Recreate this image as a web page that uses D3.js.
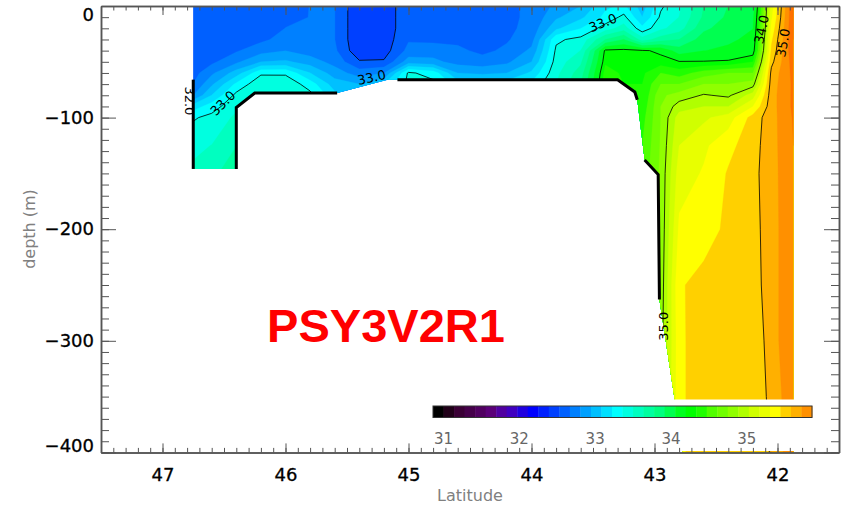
<!DOCTYPE html>
<html>
<head>
<meta charset="utf-8">
<title>PSY3V2R1 salinity section</title>
<script src="https://d3js.org/d3.v7.min.js"></script>
<style>
  body { margin: 0; background: #fff; }
  svg text { font-family: "DejaVu Sans", sans-serif; }
</style>
</head>
<body>
<svg id="chart" width="843" height="511"></svg>
<script>
var _ = null;

// station latitudes (deg N) and depth levels (m)
var stationLat = [46.75, 46.6, 46.4, 46.2, 46.0, 45.8, 45.6, 45.4, 45.2, 45.0, 44.8, 44.6, 44.4, 44.2,
                  44.0, 43.8, 43.6, 43.4, 43.25, 43.1, 42.95, 42.8, 42.6, 42.4, 42.2, 42.05, 41.87];
var depthLevels = [0, 10, 20, 30, 40, 50, 60, 70, 80, 90, 100, 125, 150, 200, 250, 300, 350, 400];

// salinity, one row per depth level (null = below the sea floor)
var salinity = [
  [32.03,32.03,32.03,32.03,32.10,32.17,32.17,31.85,31.88,32.13,32.03,32.07,32.07,32.13,32.20,32.37,32.50,32.80,32.87,32.58,32.97,33.13,33.50,33.67,33.75,34.75,35.30],
  [32.03,32.03,32.03,32.03,32.13,32.17,32.17,31.85,31.88,32.13,32.03,32.07,32.07,32.13,32.20,32.47,32.63,32.88,33.05,32.67,33.03,33.17,33.53,33.70,33.80,34.78,35.30],
  [32.03,32.03,32.03,32.05,32.17,32.17,32.17,31.85,31.88,32.13,32.07,32.08,32.07,32.13,32.22,32.63,32.83,33.08,33.25,32.88,33.13,33.25,33.63,33.75,33.83,34.83,35.30],
  [32.03,32.03,32.03,32.13,32.23,32.20,32.17,31.85,31.90,32.15,32.13,32.13,32.08,32.15,32.27,32.97,33.05,33.50,33.67,33.25,33.42,33.50,33.75,33.80,33.88,34.88,35.30],
  [32.05,32.03,32.15,32.27,32.33,32.25,32.20,31.87,31.92,32.22,32.25,32.20,32.13,32.20,32.37,33.03,33.17,34.03,34.04,34.02,33.97,33.75,33.83,33.87,33.93,34.92,35.28],
  [32.07,32.13,32.30,32.50,32.53,32.42,32.27,32.02,32.02,32.42,32.38,32.27,32.23,32.30,32.50,33.07,33.30,34.08,34.06,34.06,34.05,34.01,34.01,34.02,34.10,34.97,35.25],
  [32.10,32.30,32.58,32.97,32.97,32.67,32.42,32.25,32.33,33.03,32.93,32.50,32.47,32.50,32.70,33.12,33.42,34.15,34.08,34.08,34.20,34.15,34.25,34.30,34.30,35.03,35.23],
  [32.17,32.47,32.87,33.13,33.12,32.92,32.58,32.50,32.67,33.05,33.05,32.75,32.75,32.75,32.87,33.17,33.50,34.18,34.10,34.10,34.30,34.30,34.40,34.40,34.45,35.05,35.22],
  [32.33,32.67,33.05,33.17,33.13,33.05,32.72,32.58,32.75,33.08,33.07,32.80,32.80,32.80,32.90,33.17,33.50,34.18,34.10,34.10,34.38,34.44,34.51,34.48,34.65,35.06,35.22],
  [32.75,32.92,33.13,_,_,_,_,_,_,_,_,_,_,_,_,_,_,_,34.12,34.13,34.40,34.55,34.60,34.60,34.80,35.06,35.22],
  [32.98,33.05,33.20,_,_,_,_,_,_,_,_,_,_,_,_,_,_,_,34.14,34.16,34.40,34.65,34.68,34.75,34.94,35.06,35.21],
  [33.13,33.17,33.33,_,_,_,_,_,_,_,_,_,_,_,_,_,_,_,_,34.20,34.41,34.70,34.78,34.87,34.96,35.06,35.20],
  [33.20,33.30,33.42,_,_,_,_,_,_,_,_,_,_,_,_,_,_,_,_,34.23,34.42,34.75,34.81,34.91,34.97,35.06,35.19],
  [_,_,_,_,_,_,_,_,_,_,_,_,_,_,_,_,_,_,_,_,34.42,34.82,34.86,34.92,34.96,35.06,35.18],
  [_,_,_,_,_,_,_,_,_,_,_,_,_,_,_,_,_,_,_,_,34.43,34.89,34.93,34.92,34.95,35.06,35.18],
  [_,_,_,_,_,_,_,_,_,_,_,_,_,_,_,_,_,_,_,_,34.45,34.87,34.98,34.92,34.91,35.06,35.18],
  [_,_,_,_,_,_,_,_,_,_,_,_,_,_,_,_,_,_,_,_,34.48,34.87,34.98,34.92,34.92,35.03,35.18],
  [_,_,_,_,_,_,_,_,_,_,_,_,_,_,_,_,_,_,_,_,34.49,34.87,34.98,34.92,34.92,35.01,35.18]
];

// outline of the wet part of the section
var waterLat   = [46.75, 41.87, 41.87, 42.77, 42.96, 42.97, 43.08, 43.14, 43.16, 43.30, 45.17, 45.58, 46.25, 46.40, 46.40, 46.75];
var waterDepth = [0,     0,     400,   400,   263,   151,   138,   84,    77,    66,    66,    78,    78,    91,    146,   146];

// sea floor lines drawn thick
var floorLines = [
  [[46.75, 66], [46.75, 146]],
  [[46.40, 146], [46.40, 91], [46.25, 78], [45.58, 78]],
  [[45.09, 66], [43.30, 66], [43.16, 77], [43.14, 84]],
  [[43.08, 138], [42.97, 151], [42.96, 263]]
];

// colour table (colour bar uses the first 36)
var palette = ["#000000","#200018","#3a0035","#45004a","#500060","#5a0078","#5000a0","#4000c0","#2000e0",
  "#0000ff","#0020ff","#0040ff","#0060ff","#0080ff","#00a0ff","#00c0ff","#00e0ff","#00ffff","#00ffe0",
  "#00ffc0","#00ffa0","#00ff80","#00ff50","#00ff20","#00ff00","#20ff00","#50ff00","#70ff00","#90ff00",
  "#b0ff00","#d0ff00","#e8ff00","#ffff00","#ffd000","#ffb000","#ff9000","#ff7000","#ff5000"];
var colorbarCount = 36;
var colorbarTicks = [31, 32, 33, 34, 35];

// salinity -> colour index
var levelSal = [31, 32, 33, 34, 35, 36];
var levelIdx = [6, 12, 18, 24, 34, 44];

var lineLevels = [32, 33, 34, 34.5, 35];
var labelText  = ["32.0", "33.0", "33.0", "33.0", "34.0", "35.0", "35.0"];
var labelLat   = [46.78, 46.51, 45.30, 43.42, 42.13, 41.955, 42.93];
var labelDepth = [85, 87, 64, 15, 21, 33, 287];
var labelAngle = [90, -45, -12, -22, -78, -80, -90];

var xMajor = d3.range(42, 48);
var xMinor = d3.range(415, 476).map(function(v) { return v / 10; });
var yMajor = d3.range(0, -401, -100);
var yMinor = d3.range(0, -401, -10);

var svg = d3.select("#chart");
var x = d3.scaleLinear().domain([47.5, 41.5]).range([101, 839]);
var y = d3.scaleLinear().domain([0, -400]).range([6, 452.4]);

var nx = stationLat.length, ny = depthLevels.length;
// fill cells under the sea floor from above so the grid is complete (they get clipped)
var grid = salinity.map(function(r) { return r.slice(); });
for (var j = 1; j < ny; j++)
  for (var i = 0; i < nx; i++)
    if (grid[j][i] == null) grid[j][i] = grid[j - 1][i];
var values = [].concat.apply([], grid);

var latAt = d3.scaleLinear().domain(d3.range(nx)).range(stationLat).clamp(true);
var depAt = d3.scaleLinear().domain(d3.range(ny)).range(depthLevels).clamp(true);
function toPixel(p) {
  return [x(latAt(p[0] - 0.5)), y(-depAt(p[1] - 0.5))];
}
var path = d3.geoPath(d3.geoTransform({
  point: function(px, py) { var q = toPixel([px, py]); this.stream.point(q[0], q[1]); }
}));

// clip to water
var waterPts = waterLat.map(function(l, i) { return [x(l), y(-waterDepth[i])]; });
svg.append("clipPath").attr("id", "water")
  .append("path").attr("d", d3.line()(waterPts) + "Z");

var g = svg.append("g").attr("clip-path", "url(#water)");
g.append("path").attr("d", d3.line()(waterPts) + "Z").attr("fill", palette[11]);

var cLevel = d3.scaleLinear().domain(levelSal).range(levelIdx);
var fillIdx = d3.range(12, palette.length);
var fills = d3.contours().size([nx, ny]).thresholds(fillIdx.map(function(k) { return cLevel.invert(k); }))(values);
g.selectAll("path.fill").data(fills).enter().append("path")
  .attr("class", "fill")
  .attr("d", path)
  .attr("fill", function(d, i) { return palette[fillIdx[i]]; })
  .attr("stroke", function(d, i) { return palette[fillIdx[i]]; })
  .attr("stroke-width", 0.3);

// contour lines, leaving out the parts that run along the grid border
function ringPath(ring) {
  var s = "";
  for (var k = 0; k < ring.length; k++) {
    var p = ring[k], q = ring[k - 1];
    var edge = k === 0 || (q[0] === 0 && p[0] === 0) || (q[0] === nx && p[0] === nx) ||
               (q[1] === 0 && p[1] === 0) || (q[1] === ny && p[1] === ny);
    var xy = toPixel(p);
    s += (edge ? "M" : "L") + xy[0].toFixed(1) + "," + xy[1].toFixed(1);
  }
  return s;
}
var lines = d3.contours().size([nx, ny]).thresholds(lineLevels)(values);
lines.forEach(function(mp) {
  mp.coordinates.forEach(function(poly) {
    poly.forEach(function(ring) {
      g.append("path").attr("d", ringPath(ring))
        .attr("fill", "none").attr("stroke", "#000").attr("stroke-width", 0.8);
    });
  });
});

// sea floor
floorLines.forEach(function(seg) {
  svg.append("path")
    .attr("d", d3.line()(seg.map(function(p) { return [x(p[0]), y(-p[1])]; })))
    .attr("fill", "none").attr("stroke", "#000").attr("stroke-width", 3);
});

// contour labels
labelText.forEach(function(t, i) {
  svg.append("text")
    .attr("transform", "translate(" + x(labelLat[i]) + "," + y(-labelDepth[i]) + ") rotate(" + labelAngle[i] + ")")
    .attr("text-anchor", "middle").attr("dy", "0.35em")
    .attr("font-size", 13).attr("fill", "#000")
    .text(t);
});

// colour bar
svg.append("rect").attr("x", 418).attr("y", 399.5).attr("width", 412).attr("height", 51.5).attr("fill", "#fff");
var cbX = d3.scaleLinear().domain([0, colorbarCount]).range([433, 812]);
svg.selectAll("rect.cb").data(palette.slice(0, colorbarCount)).enter().append("rect")
  .attr("class", "cb")
  .attr("x", function(d, i) { return cbX(i); })
  .attr("y", 406)
  .attr("width", cbX(1) - cbX(0) + 0.4)
  .attr("height", 11.5)
  .attr("fill", function(d) { return d; });
svg.append("rect").attr("x", 433).attr("y", 406).attr("width", 379).attr("height", 11.5)
  .attr("fill", "none").attr("stroke", "#333").attr("stroke-width", 1);
var cbScale = d3.scaleLinear().domain([31, 36]).range([433, 812]);
svg.selectAll("text.cbl").data(colorbarTicks).enter().append("text")
  .attr("class", "cbl")
  .attr("x", function(d) { return cbScale(d) + 1; })
  .attr("y", 444)
  .attr("font-size", 15).attr("fill", "#666")
  .text(function(d) { return d; });

// axes
function axisStyle(sel) {
  sel.selectAll("line").attr("stroke", "#555");
  sel.select(".domain").attr("stroke", "#555").attr("stroke-width", 1.5);
  sel.attr("font-size", 18).attr("font-family", "DejaVu Sans");
  sel.selectAll("text").attr("fill", "#000").attr("stroke", "#000").attr("stroke-width", 0.3);
}
svg.append("g").attr("transform", "translate(101,0)")
  .call(d3.axisLeft(y).tickValues(yMinor).tickSize(-8).tickSizeOuter(0).tickFormat("")).call(axisStyle);
svg.append("g").attr("transform", "translate(101,0)")
  .call(d3.axisLeft(y).tickValues(yMajor).tickSize(-15).tickSizeOuter(0).tickPadding(7)).call(axisStyle)
  .selectAll("text").attr("dy", function(d) { return d === 0 ? "0.78em" : d === -400 ? "-0.04em" : "0.32em"; });
svg.append("g").attr("transform", "translate(839,0)")
  .call(d3.axisRight(y).tickValues(yMinor).tickSize(-8).tickSizeOuter(0).tickFormat("")).call(axisStyle);
svg.append("g").attr("transform", "translate(839,0)")
  .call(d3.axisRight(y).tickValues(yMajor).tickSize(-15).tickSizeOuter(0).tickFormat("")).call(axisStyle);
svg.append("g").attr("transform", "translate(0,452.4)")
  .call(d3.axisBottom(x).tickValues(xMinor).tickSize(-4.5).tickSizeOuter(0).tickFormat("")).call(axisStyle);
svg.append("g").attr("transform", "translate(0,452.4)")
  .call(d3.axisBottom(x).tickValues(xMajor).tickSize(-9).tickSizeOuter(0).tickPadding(16).tickFormat(d3.format("d"))).call(axisStyle);
svg.append("g").attr("transform", "translate(0,6)")
  .call(d3.axisTop(x).tickValues(xMinor).tickSize(-4.5).tickSizeOuter(0).tickFormat("")).call(axisStyle);
svg.append("g").attr("transform", "translate(0,6)")
  .call(d3.axisTop(x).tickValues(xMajor).tickSize(-9).tickSizeOuter(0).tickFormat("")).call(axisStyle);

// axis titles
svg.append("text").attr("x", 470).attr("y", 501).attr("text-anchor", "middle")
  .attr("font-size", 16).attr("fill", "#808080").text("Latitude");
svg.append("text").attr("transform", "translate(35,229) rotate(-90)").attr("text-anchor", "middle")
  .attr("font-size", 16).attr("fill", "#808080").text("depth (m)");

// run name
svg.append("text").attr("x", 386).attr("y", 342).attr("text-anchor", "middle")
  .style("font-family", "'Liberation Sans', Arial, sans-serif")
  .attr("font-weight", "bold").attr("font-size", 47).attr("fill", "#ff0000")
  .text("PSY3V2R1");
</script>
</body>
</html>
